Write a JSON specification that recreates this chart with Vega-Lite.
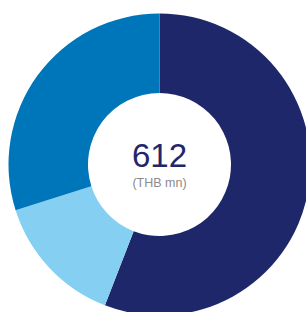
{
  "$schema": "https://vega.github.io/schema/vega-lite/v6.json",
  "width": 293,
  "height": 295,
  "padding": {"left": 13, "top": 17, "right": 0, "bottom": 0},
  "autosize": {"type": "none"},
  "background": "#ffffff",
  "config": {"view": {"stroke": null}},
  "layer": [
    {
      "data": {"values": [
        {"segment": "Segment 1", "rank": 1, "value": 342},
        {"segment": "Segment 2", "rank": 2, "value": 87},
        {"segment": "Segment 3", "rank": 3, "value": 183}
      ]},
      "mark": {"type": "arc", "outerRadius": 151, "innerRadius": 71.5},
      "encoding": {
        "theta": {"field": "value", "type": "quantitative", "stack": true},
        "order": {"field": "rank", "type": "ordinal"},
        "color": {"field": "segment", "type": "nominal", "legend": null,
          "scale": {"domain": ["Segment 1", "Segment 2", "Segment 3"], "range": ["#1F276B", "#85CFF2", "#0076BA"]}}
      }
    },
    {
      "data": {"values": [{"t": "612"}]},
      "mark": {"type": "text", "font": "Liberation Sans", "fontSize": 33, "color": "#1F276B", "baseline": "alphabetic", "align": "center", "dy": 2.5},
      "encoding": {"text": {"field": "t"}}
    },
    {
      "data": {"values": [{"t": "(THB mn)"}]},
      "mark": {"type": "text", "font": "Liberation Sans", "fontSize": 12.5, "color": "#8A8A8A", "baseline": "alphabetic", "align": "center", "dy": 22.5},
      "encoding": {"text": {"field": "t"}}
    }
  ]
}
